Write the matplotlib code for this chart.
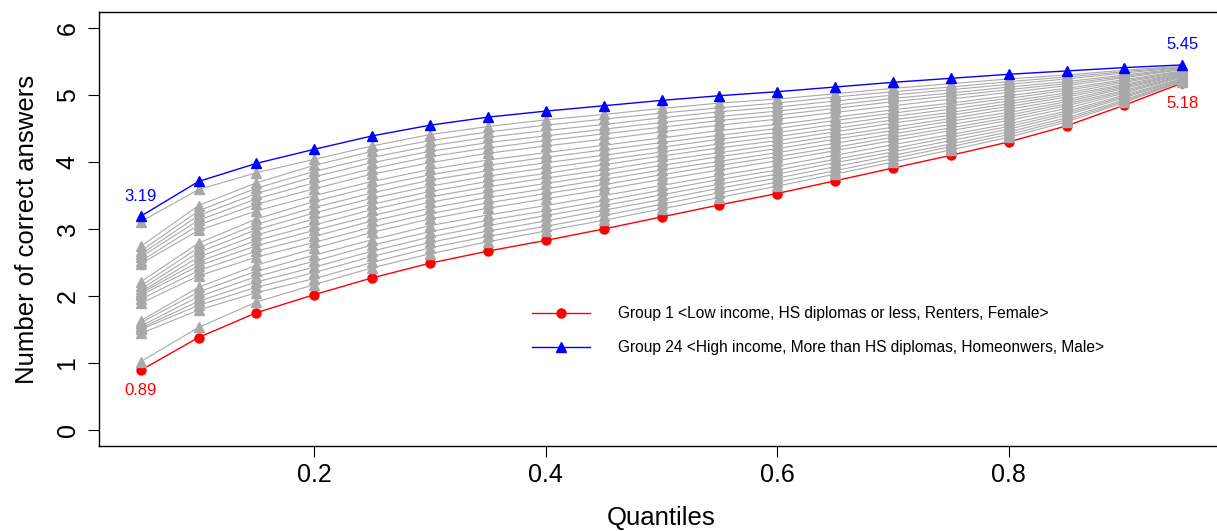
import matplotlib
matplotlib.use("Agg")
import matplotlib.pyplot as plt

plt.rcParams['font.family'] = ['Liberation Sans', 'DejaVu Sans']

# ---------------- data ----------------
quantiles = [0.05, 0.10, 0.15, 0.20, 0.25, 0.30, 0.35, 0.40, 0.45, 0.50,
             0.55, 0.60, 0.65, 0.70, 0.75, 0.80, 0.85, 0.90, 0.95]

# group 1 (lowest) and group 24 (highest)
group1 = [0.89, 1.38, 1.75, 2.02, 2.27, 2.49, 2.67, 2.83, 3.00, 3.18,
          3.36, 3.53, 3.72, 3.91, 4.10, 4.30, 4.54, 4.85, 5.18]
group24 = [3.19, 3.71, 3.98, 4.19, 4.39, 4.55, 4.67, 4.76, 4.84, 4.92,
           4.99, 5.05, 5.12, 5.19, 5.25, 5.31, 5.36, 5.41, 5.45]

# groups 2..23 (grey)
g02 = [1.02, 1.53, 1.91, 2.17, 2.42, 2.63, 2.81, 2.97, 3.13, 3.30, 3.47, 3.64, 3.82, 4.00, 4.18, 4.37, 4.60, 4.89, 5.20]
g03 = [1.44, 1.79, 2.05, 2.26, 2.50, 2.72, 2.89, 3.04, 3.20, 3.37, 3.54, 3.70, 3.87, 4.05, 4.23, 4.41, 4.63, 4.91, 5.21]
g04 = [1.50, 1.86, 2.13, 2.35, 2.59, 2.80, 2.97, 3.12, 3.28, 3.44, 3.61, 3.76, 3.93, 4.10, 4.27, 4.45, 4.66, 4.93, 5.22]
g05 = [1.52, 1.92, 2.21, 2.43, 2.67, 2.88, 3.05, 3.20, 3.35, 3.51, 3.67, 3.82, 3.99, 4.15, 4.32, 4.49, 4.70, 4.96, 5.23]
g06 = [1.55, 1.99, 2.29, 2.52, 2.76, 2.96, 3.13, 3.27, 3.42, 3.58, 3.74, 3.88, 4.04, 4.20, 4.37, 4.53, 4.73, 4.98, 5.24]
g07 = [1.60, 2.06, 2.37, 2.61, 2.84, 3.05, 3.21, 3.35, 3.50, 3.65, 3.80, 3.94, 4.10, 4.26, 4.41, 4.57, 4.76, 5.00, 5.25]
g08 = [1.63, 2.13, 2.46, 2.71, 2.95, 3.15, 3.31, 3.45, 3.59, 3.74, 3.88, 4.02, 4.17, 4.32, 4.47, 4.62, 4.80, 5.03, 5.27]
g09 = [1.89, 2.30, 2.58, 2.80, 3.03, 3.23, 3.39, 3.53, 3.66, 3.81, 3.95, 4.08, 4.22, 4.37, 4.51, 4.66, 4.84, 5.05, 5.28]
g10 = [1.95, 2.38, 2.67, 2.89, 3.12, 3.31, 3.47, 3.60, 3.74, 3.88, 4.01, 4.14, 4.28, 4.42, 4.56, 4.70, 4.87, 5.07, 5.29]
g11 = [2.01, 2.45, 2.75, 2.98, 3.20, 3.40, 3.55, 3.68, 3.81, 3.95, 4.08, 4.20, 4.34, 4.47, 4.61, 4.74, 4.90, 5.10, 5.30]
g12 = [2.04, 2.51, 2.83, 3.06, 3.29, 3.48, 3.63, 3.76, 3.88, 4.02, 4.14, 4.26, 4.39, 4.52, 4.65, 4.79, 4.93, 5.12, 5.31]
g13 = [2.06, 2.58, 2.91, 3.15, 3.37, 3.56, 3.71, 3.83, 3.96, 4.09, 4.21, 4.32, 4.45, 4.58, 4.70, 4.83, 4.97, 5.14, 5.32]
g14 = [2.10, 2.65, 2.99, 3.24, 3.46, 3.64, 3.79, 3.91, 4.03, 4.15, 4.27, 4.38, 4.50, 4.63, 4.74, 4.87, 5.00, 5.16, 5.33]
g15 = [2.15, 2.72, 3.07, 3.32, 3.54, 3.73, 3.87, 3.99, 4.10, 4.22, 4.34, 4.44, 4.56, 4.68, 4.79, 4.91, 5.03, 5.19, 5.34]
g16 = [2.21, 2.79, 3.15, 3.41, 3.63, 3.81, 3.95, 4.07, 4.18, 4.29, 4.40, 4.50, 4.62, 4.73, 4.84, 4.95, 5.07, 5.21, 5.35]
g17 = [2.48, 2.98, 3.27, 3.50, 3.71, 3.89, 4.03, 4.14, 4.25, 4.36, 4.47, 4.56, 4.67, 4.78, 4.88, 4.99, 5.10, 5.23, 5.36]
g18 = [2.52, 3.06, 3.37, 3.60, 3.82, 3.99, 4.13, 4.24, 4.34, 4.45, 4.55, 4.64, 4.74, 4.84, 4.94, 5.04, 5.14, 5.26, 5.38]
g19 = [2.58, 3.13, 3.45, 3.69, 3.90, 4.08, 4.21, 4.32, 4.42, 4.52, 4.62, 4.70, 4.80, 4.90, 4.99, 5.08, 5.17, 5.28, 5.39]
g20 = [2.62, 3.20, 3.53, 3.78, 3.99, 4.16, 4.29, 4.39, 4.49, 4.59, 4.68, 4.76, 4.85, 4.95, 5.03, 5.12, 5.20, 5.30, 5.40]
g21 = [2.67, 3.27, 3.61, 3.86, 4.07, 4.24, 4.37, 4.47, 4.56, 4.66, 4.75, 4.82, 4.91, 5.00, 5.08, 5.16, 5.24, 5.33, 5.41]
g22 = [2.74, 3.35, 3.69, 3.95, 4.16, 4.32, 4.45, 4.55, 4.64, 4.73, 4.81, 4.88, 4.97, 5.05, 5.12, 5.20, 5.27, 5.35, 5.42]
g23 = [3.11, 3.59, 3.84, 4.04, 4.24, 4.41, 4.53, 4.63, 4.71, 4.80, 4.88, 4.94, 5.02, 5.10, 5.17, 5.24, 5.30, 5.37, 5.43]
grey_groups = [g02, g03, g04, g05, g06, g07, g08, g09, g10, g11, g12,
               g13, g14, g15, g16, g17, g18, g19, g20, g21, g22, g23]

label1 = "Group 1 <Low income, HS diplomas or less, Renters, Female>"
label24 = "Group 24 <High income, More than HS diplomas, Homeonwers, Male>"

# ---------------- plot ----------------
fig = plt.figure(figsize=(12.17, 5.31), dpi=100)
ax = fig.add_axes([99 / 1217, 85 / 531, 1125 / 1217, 434 / 531])

ax.plot(quantiles, group1, color="red", lw=1.0, marker="o", ms=6.5, label=label1)
for g in grey_groups:
    ax.plot(quantiles, g, color="darkgray", lw=0.8, marker="^", ms=7)
ax.plot(quantiles, group24, color="blue", lw=1.0, marker="^", ms=7, label=label24)

# values at the ends
ann = dict(textcoords="offset points", ha="center", va="center", fontsize=12)
ax.annotate(f"{group24[0]:.2f}", (quantiles[0], group24[0]), xytext=(0, 14.5), color="blue", **ann)
ax.annotate(f"{group1[0]:.2f}", (quantiles[0], group1[0]), xytext=(0, -14.5), color="red", **ann)
ax.annotate(f"{group24[-1]:.2f}", (quantiles[-1], group24[-1]), xytext=(0, 14.5), color="blue", **ann)
ax.annotate(f"{group1[-1]:.2f}", (quantiles[-1], group1[-1]), xytext=(0, -14.5), color="red", **ann)

ax.set_xlim(0.014, 0.986)
ax.set_ylim(-0.24, 6.24)
ax.set_xticks([0.2, 0.4, 0.6, 0.8])
ax.set_xticklabels(["0.2", "0.4", "0.6", "0.8"])
ax.set_yticks([0, 1, 2, 3, 4, 5, 6])
ax.tick_params(axis="both", labelsize=18, length=8, width=0.8)
ax.tick_params(axis="x", pad=4)
ax.tick_params(axis="y", pad=6)
for lab in ax.get_yticklabels():
    lab.set_rotation(90)
    lab.set_va("center")
for sp in ax.spines.values():
    sp.set_linewidth(1.0)
ax.spines["right"].set_visible(False)

ax.set_xlabel("Quantiles", fontsize=18.5, labelpad=14)
ax.set_ylabel("Number of correct answers", fontsize=18.5, labelpad=12)

ax.legend(loc="upper left", bbox_to_anchor=(532 / 1217, 1 - 306 / 531),
          bbox_transform=fig.transFigure, frameon=False, fontsize=11.2,
          handlelength=3.7, handletextpad=1.85, labelspacing=1.25,
          borderpad=0, borderaxespad=0)

fig.savefig("out.png", dpi=100)
